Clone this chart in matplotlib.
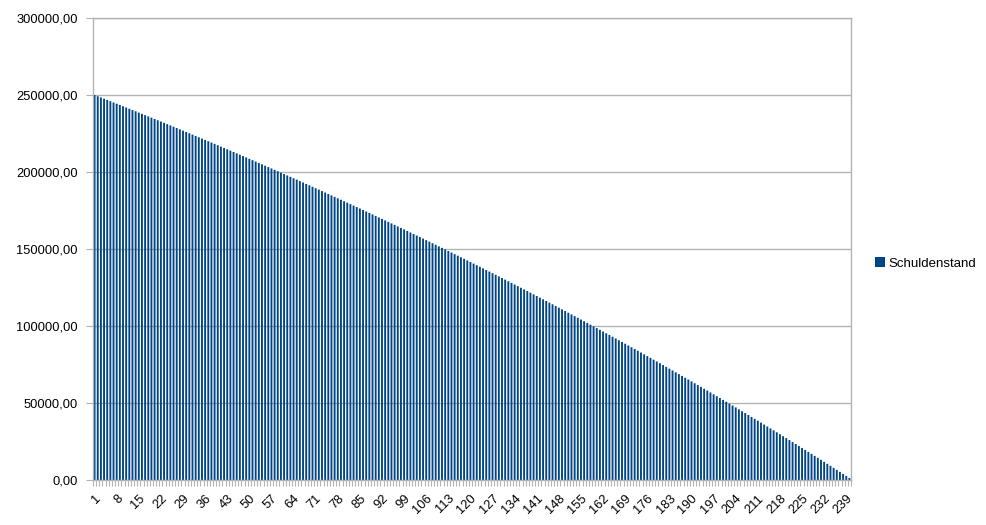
import numpy as np
import matplotlib
matplotlib.use("Agg")
import matplotlib.pyplot as plt
from matplotlib.ticker import FuncFormatter, MultipleLocator

# Schuldenstand per month (1..240)
schuldenstand = [
    250000, 249196, 248390, 247583, 246774, 245963, 245151, 244337, 243521, 242704,
    241885, 241064, 240242, 239418, 238592, 237764, 236935, 236104, 235271, 234436,
    233599, 232761, 231921, 231080, 230236, 229391, 228544, 227696, 226845, 225993,
    225139, 224283, 223426, 222567, 221706, 220843, 219978, 219112, 218244, 217374,
    216501, 215627, 214752, 213875, 212995, 212114, 211232, 210347, 209461, 208572,
    207682, 206790, 205896, 205000, 204102, 203203, 202302, 201398, 200493, 199586,
    198677, 197766, 196853, 195939, 195022, 194104, 193183, 192261, 191337, 190411,
    189483, 188552, 187620, 186686, 185750, 184813, 183873, 182931, 181988, 181043,
    180094, 179144, 178193, 177239, 176284, 175326, 174367, 173405, 172442, 171477,
    170509, 169540, 168568, 167595, 166619, 165641, 164662, 163680, 162697, 161711,
    160722, 159732, 158740, 157746, 156750, 155752, 154752, 153749, 152745, 151739,
    150730, 149719, 148707, 147692, 146675, 145656, 144634, 143611, 142586, 141558,
    140527, 139495, 138461, 137425, 136386, 135345, 134303, 133258, 132211, 131161,
    130110, 129056, 128000, 126942, 125882, 124820, 123755, 122688, 121619, 120548,
    119474, 118398, 117320, 116240, 115157, 114072, 112985, 111896, 110804, 109710,
    108614, 107516, 106415, 105312, 104206, 103099, 101989, 100876, 99762, 98645,
    97525, 96403, 95280, 94153, 93025, 91894, 90760, 89625, 88487, 87347,
    86203, 85058, 83910, 82760, 81608, 80453, 79296, 78137, 76975, 75810,
    74643, 73474, 72302, 71128, 69951, 68772, 67591, 66407, 65221, 64032,
    62841, 61647, 60451, 59252, 58050, 56847, 55640, 54432, 53220, 52007,
    50790, 49571, 48350, 47125, 45899, 44670, 43438, 42204, 40967, 39728,
    38485, 37240, 35993, 34743, 33491, 32236, 30979, 29719, 28456, 27191,
    25922, 24651, 23378, 22102, 20823, 19542, 18258, 16971, 15682, 14390,
    13095, 11798, 10497, 9194, 7889, 6581, 5270, 3956, 2640, 1322,
]
monate = list(range(1, len(schuldenstand) + 1))
label_monate = monate[::7]

plt.rcParams['font.family'] = ['Liberation Sans', 'DejaVu Sans']
grey = '#b3b3b3'

fig = plt.figure(figsize=(9.86, 5.25), dpi=100)
ax = fig.add_axes([93 / 986, 1 - 480 / 525, (851 - 93) / 986, (480 - 18) / 525])

x = np.arange(len(schuldenstand))
bars = ax.bar(x, schuldenstand, width=0.6, color='#004586', label='Schuldenstand',
              zorder=2, linewidth=0)
for b in bars:
    b.set_snap(False)

ax.set_xlim(-0.5, len(schuldenstand) - 0.5)
ax.set_ylim(0, 300000)
ax.yaxis.set_major_locator(MultipleLocator(50000))
ax.yaxis.set_major_formatter(FuncFormatter(lambda v, p: f"{v:.2f}".replace('.', ',')))
ax.grid(axis='y', color=grey, linewidth=1, zorder=0)

# category labels every 7th month, boundaries as minor ticks
ax.set_xticks([m - 1 for m in label_monate])
ax.set_xticklabels([str(m) for m in label_monate], rotation=45, ha='right',
                   rotation_mode='anchor')
ax.set_xticks(np.arange(-0.5, len(schuldenstand), 1), minor=True)
ax.tick_params(axis='x', which='major', length=0, pad=9, labelsize=9.3)
ax.tick_params(axis='x', which='minor', length=4, color=grey, width=0.8)
ax.tick_params(axis='y', length=5, color=grey, labelsize=9.3, pad=6)

for s in ax.spines.values():
    s.set_color(grey)
    s.set_linewidth(1)

leg = ax.legend(loc='center left', bbox_to_anchor=(0.997, 0.467), frameon=False,
                fontsize=9.5, handlelength=0.55, handleheight=0.55, handletextpad=0.45,
                borderaxespad=1.6)
for h in leg.legend_handles:
    h.set_width(7)
    h.set_height(7)

fig.savefig('out.png', dpi=100)
